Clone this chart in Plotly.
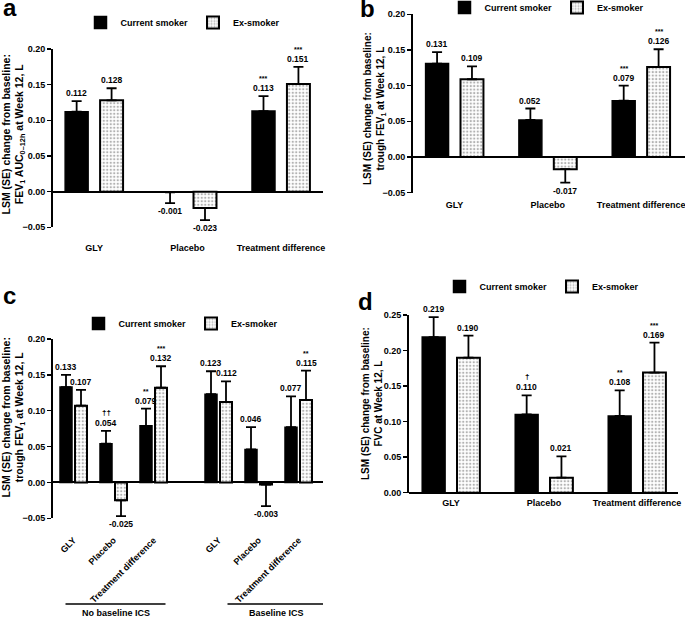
import plotly.graph_objects as go

W, H = 685, 621

# ---------------- data ----------------
categories = ["GLY", "Placebo", "Treatment difference"]
c_categories = ["GLY", "Placebo", "Treatment difference", "GLY", "Placebo", "Treatment difference"]
c_groups = ["No baseline ICS", "Baseline ICS"]
series_names = ["Current smoker", "Ex-smoker"]

a_current = [0.112, -0.001, 0.113]
a_current_se = [0.015, 0.015, 0.021]
a_ex = [0.128, -0.023, 0.151]
a_ex_se = [0.017, 0.017, 0.024]
a_current_sig = ["", "", "***"]
a_ex_sig = ["", "", "***"]

b_current = [0.131, 0.052, 0.079]
b_current_se = [0.016, 0.016, 0.021]
b_ex = [0.109, -0.017, 0.126]
b_ex_se = [0.018, 0.019, 0.025]
b_current_sig = ["", "", "***"]
b_ex_sig = ["", "", "***"]

c_current = [0.133, 0.054, 0.079, 0.123, 0.046, 0.077]
c_current_se = [0.017, 0.018, 0.024, 0.032, 0.031, 0.043]
c_ex = [0.107, -0.025, 0.132, 0.112, -0.003, 0.115]
c_ex_se = [0.022, 0.022, 0.030, 0.029, 0.030, 0.041]
c_current_sig = ["", "††", "**", "", "", ""]
c_ex_sig = ["", "", "***", "", "", "**"]

d_current = [0.219, 0.110, 0.108]
d_current_se = [0.028, 0.027, 0.036]
d_ex = [0.190, 0.021, 0.169]
d_ex_se = [0.031, 0.030, 0.042]
d_current_sig = ["", "†", "**"]
d_ex_sig = ["", "", "***"]

y_titles = {
    "a": "LSM (SE) change from baseline:<br>FEV<sub>1</sub> AUC<sub>0–12h</sub> at Week 12, L",
    "b": "LSM (SE) change from baseline:<br>trough FEV<sub>1</sub> at Week 12, L",
    "c": "LSM (SE) change from baseline:<br>trough FEV<sub>1</sub> at Week 12, L",
    "d": "LSM (SE) change from baseline:<br>FVC at Week 12, L",
}

# ---------------- layout helpers ----------------
FONT = "Liberation Sans, Arial, sans-serif"


def px_x(p):
    return p / W


def px_y(p):
    return 1 - p / H


group_gap = 0.625  # extra spacing between ICS groups in panel c (category units)
c_pos = [i + (i // 3) * group_gap for i in range(len(c_categories))]
std_pos = list(range(len(categories)))

panels = [
    dict(key="a", n=1, cur=a_current, cur_se=a_current_se, ex=a_ex, ex_se=a_ex_se,
         cur_sig=a_current_sig, ex_sig=a_ex_sig, pos=std_pos, labels=categories,
         xdom=(53, 323), ydom=(49, 227.3), xrange=(-0.44, 2.45), yrange=(-0.05, 0.20),
         bw=0.246, off_cur=-0.31, off_ex=0.064, xpos=241, standoff=0, tickangle=0,
         legend=(183, 8), title=(13.5, 135, 10.5), letter=(10, -8)),
    dict(key="b", n=2, cur=b_current, cur_se=b_current_se, ex=b_ex, ex_se=b_ex_se,
         cur_sig=b_current_sig, ex_sig=b_ex_sig, pos=std_pos, labels=categories,
         xdom=(413, 685), ydom=(14.3, 192.7), xrange=(-0.445, 2.47), yrange=(-0.05, 0.20),
         bw=0.246, off_cur=-0.31, off_ex=0.064, xpos=198, standoff=0, tickangle=0,
         legend=(547, -7), title=(374, 108, 10), letter=(367, -7)),
    dict(key="c", n=3, cur=c_current, cur_se=c_current_se, ex=c_ex, ex_se=c_ex_se,
         cur_sig=c_current_sig, ex_sig=c_ex_sig, pos=c_pos, labels=c_categories,
         xdom=(53, 323), ydom=(339, 518.3), xrange=(-0.5125, 6.2375), yrange=(-0.05, 0.20),
         bw=0.3, off_cur=-0.3375, off_ex=0.0375, xpos=518.3, standoff=14, tickangle=-45,
         legend=(181, 309), title=(13.5, 418, 10.5), letter=(9, 280)),
    dict(key="d", n=4, cur=d_current, cur_se=d_current_se, ex=d_ex, ex_se=d_ex_se,
         cur_sig=d_current_sig, ex_sig=d_ex_sig, pos=std_pos, labels=categories,
         xdom=(409, 678), ydom=(315, 493), xrange=(-0.452, 2.44), yrange=(-0.0005, 0.25),
         bw=0.246, off_cur=-0.31, off_ex=0.064, xpos=496, standoff=0, tickangle=0,
         legend=(542, 272), title=(372, 404, 10), letter=(366, 286)),
]

fig = go.Figure()
annotations = []
shapes = []
layout_axes = {}
legends = {}


def err(vals, se):
    plus = [s if v >= 0 else 0 for v, s in zip(vals, se)]
    minus = [0 if v >= 0 else s for v, s in zip(vals, se)]
    return dict(type="data", symmetric=False, array=plus, arrayminus=minus,
                color="black", thickness=1.8, width=5, visible=True)


for P in panels:
    n = P["n"]
    sfx = "" if n == 1 else str(n)
    xa, ya = "x" + sfx, "y" + sfx
    lg = "legend" + sfx
    npts = len(P["pos"])

    fig.add_trace(go.Bar(
        x=P["pos"], y=P["cur"], width=[P["bw"]] * npts, offset=[P["off_cur"]] * npts,
        name=series_names[0], xaxis=xa, yaxis=ya, legend=lg,
        marker=dict(color="black", line=dict(color="black", width=1.5)),
        error_y=err(P["cur"], P["cur_se"]), cliponaxis=False,
    ))
    fig.add_trace(go.Bar(
        x=P["pos"], y=P["ex"], width=[P["bw"]] * npts, offset=[P["off_ex"]] * npts,
        name=series_names[1], xaxis=xa, yaxis=ya, legend=lg,
        marker=dict(color="white", line=dict(color="black", width=2),
                    pattern=dict(shape=".", size=3.5, solidity=0.35,
                                 fgcolor="#666666", bgcolor="white")),
        error_y=err(P["ex"], P["ex_se"]), cliponaxis=False,
    ))

    layout_axes["xaxis" + sfx] = dict(
        domain=[px_x(P["xdom"][0]), px_x(P["xdom"][1])], range=list(P["xrange"]),
        anchor="free", position=px_y(P["xpos"]), automargin=False,
        showline=False, showgrid=False, zeroline=False, ticks="",
        tickmode="array", tickvals=P["pos"], ticktext=P["labels"],
        tickangle=P["tickangle"], ticklabelstandoff=P["standoff"],
        ticklabeloverflow="allow",
        tickfont=dict(size=9, family=FONT, color="black", weight="bold"),
    )
    layout_axes["yaxis" + sfx] = dict(
        domain=[px_y(P["ydom"][1]), px_y(P["ydom"][0])], range=list(P["yrange"]),
        anchor=xa, automargin=False, showline=True, linecolor="black", linewidth=2,
        showgrid=False, zeroline=True, zerolinecolor="black", zerolinewidth=2,
        ticks="outside", ticklen=4, tickwidth=1.5, tickcolor="black",
        tickmode="linear", dtick=0.05, tick0=0, tickformat=".2f",
        tickfont=dict(size=9, family=FONT, color="black", weight="bold"),
    )
    legends[lg] = dict(
        orientation="h", x=px_x(P["legend"][0]), y=px_y(P["legend"][1]),
        xanchor="center", yanchor="top", bgcolor="rgba(0,0,0,0)",
        font=dict(size=9, family=FONT, color="black", weight="bold"),
        itemwidth=30, tracegroupgap=0,
    )

    # value + significance labels
    for vals, se, sig, off in ((P["cur"], P["cur_se"], P["cur_sig"], P["off_cur"]),
                               (P["ex"], P["ex_se"], P["ex_sig"], P["off_ex"])):
        for x, v, s, g in zip(P["pos"], vals, se, sig):
            xc = x + off + P["bw"] / 2
            if v >= 0:
                annotations.append(dict(
                    x=xc, y=v + s, xref=xa, yref=ya, text=f"{v:.3f}", showarrow=False,
                    yanchor="bottom", yshift=1,
                    font=dict(size=8.5, family=FONT, color="black", weight="bold")))
                if g:
                    annotations.append(dict(
                        x=xc, y=v + s, xref=xa, yref=ya, text=g, showarrow=False,
                        yanchor="bottom", yshift=12,
                        font=dict(size=8 if "†" in g else 7, family=FONT, color="black",
                                  weight="bold")))
            else:
                annotations.append(dict(
                    x=xc, y=v - s, xref=xa, yref=ya, text=f"{v:.3f}", showarrow=False,
                    yanchor="top", yshift=-1,
                    font=dict(size=8.5, family=FONT, color="black", weight="bold")))

    # y-axis title
    tx, ty, tsize = P["title"]
    annotations.append(dict(
        x=px_x(tx), y=px_y(ty), xref="paper", yref="paper", text=y_titles[P["key"]],
        textangle=-90, showarrow=False, xanchor="center", yanchor="middle",
        font=dict(size=tsize, family=FONT, color="black", weight="bold")))

    # panel letter
    lx, ly = P["letter"]
    annotations.append(dict(
        x=px_x(lx), y=px_y(ly), xref="paper", yref="paper", text=P["key"],
        showarrow=False, xanchor="center", yanchor="top",
        font=dict(size=24, family=FONT, color="black", weight="bold")))

# group brackets for panel c
c_group_spans = [(-0.2, 2.3), (3.85, 6.3)]
for name, (x0, x1) in zip(c_groups, c_group_spans):
    shapes.append(dict(type="line", xref="x3", yref="paper", x0=x0, x1=x1,
                       y0=px_y(604), y1=px_y(604), line=dict(color="black", width=1.5)))
    annotations.append(dict(
        x=(x0 + x1) / 2, y=px_y(613), xref="x3", yref="paper", text=name,
        showarrow=False, xanchor="center", yanchor="middle",
        font=dict(size=9, family=FONT, color="black", weight="bold")))

fig.update_layout(
    width=W, height=H, autosize=False,
    margin=dict(l=0, r=0, t=0, b=0, autoexpand=False),
    paper_bgcolor="white", plot_bgcolor="white",
    barmode="overlay", showlegend=True,
    font=dict(family=FONT, color="black"),
    annotations=annotations, shapes=shapes,
    **layout_axes, **legends,
)

fig.write_html(
    "out.html",
    config={"displayModeBar": False, "staticPlot": True},
    post_script="document.body.style.margin='0';document.body.style.overflow='hidden';",
)
